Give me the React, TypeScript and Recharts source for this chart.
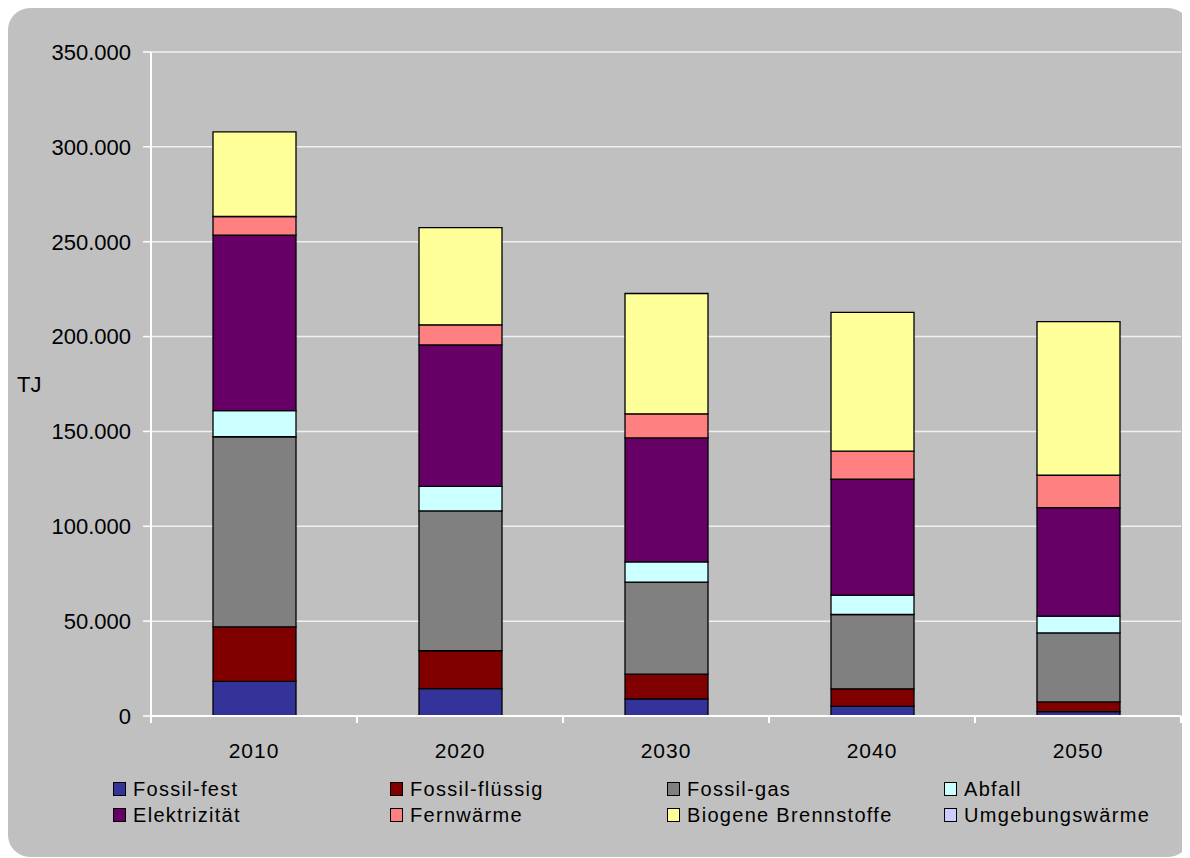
import React from "react";
import {
  BarChart,
  Bar,
  CartesianGrid,
  XAxis,
  YAxis,
} from "recharts";

// Categories and values (TJ)
const years = ["2010", "2020", "2030", "2040", "2050"];
const fossilFest = [18300, 14400, 9000, 5100, 2300];
const fossilFluessig = [28700, 20000, 13100, 9200, 5100];
const fossilGas = [100200, 73700, 48500, 39200, 36400];
const abfall = [13800, 12900, 10600, 10200, 8800];
const elektrizitaet = [92500, 74600, 65400, 61100, 57200];
const fernwaerme = [9800, 10600, 12700, 14800, 17100];
const biogene = [44600, 51200, 63400, 73200, 81000];
const umgebungswaerme = [0, 0, 0, 0, 0];
const yTicks = [0, 50000, 100000, 150000, 200000, 250000, 300000, 350000];

const series = [
  { key: "fest", name: "Fossil-fest", color: "#333399", values: fossilFest },
  { key: "fluessig", name: "Fossil-flüssig", color: "#800000", values: fossilFluessig },
  { key: "gas", name: "Fossil-gas", color: "#808080", values: fossilGas },
  { key: "abfall", name: "Abfall", color: "#CCFFFF", values: abfall },
  { key: "elek", name: "Elektrizität", color: "#660066", values: elektrizitaet },
  { key: "fern", name: "Fernwärme", color: "#FF8080", values: fernwaerme },
  { key: "bio", name: "Biogene Brennstoffe", color: "#FFFF99", values: biogene },
  { key: "umg", name: "Umgebungswärme", color: "#CCCCFF", values: umgebungswaerme },
];

const data = years.map((year, i) => {
  const row: Record<string, string | number> = { year };
  series.forEach(s => { row[s.key] = s.values[i]; });
  return row;
});

const font = "'Liberation Sans', Arial, sans-serif";
const fmt = (v: number) => String(v).replace(/\B(?=(\d{3})+(?!\d))/g, ".");

// category label plus the tick marks on the category borders
const XTick = (props: any) => {
  const { x, y, payload } = props;
  const half = payload && payload.offset ? payload.offset : 103;
  const isLast = payload.value === years[years.length - 1];
  return (
    <g>
      <line x1={x - half} x2={x - half} y1={y} y2={y + 7} stroke="#fff" strokeWidth={2} />
      {isLast && <line x1={x + half} x2={x + half} y1={y} y2={y + 7} stroke="#fff" strokeWidth={2} />}
      <text
        x={x}
        y={y + 34}
        textAnchor="middle"
        dominantBaseline="central"
        fontFamily={font}
        fontSize={21}
        letterSpacing={1}
        fill="#000"
      >
        {payload.value}
      </text>
    </g>
  );
};

export default function App() {
  return (
    <div
      style={{
        position: "relative",
        width: 1182,
        height: 849,
        background: "#C0C0C0",
        borderRadius: 22,
        overflow: "hidden",
        fontFamily: font,
      }}
    >
      <style>{"html,body{overflow:hidden}"}</style>
      <BarChart
        width={1182}
        height={849}
        data={data}
        margin={{ top: 44, right: 9, left: 0, bottom: 101 }}
      >
        <CartesianGrid vertical={false} stroke="#F0F0F0" strokeWidth={1.5} />
        <XAxis
          dataKey="year"
          height={40}
          axisLine={{ stroke: "#fff", strokeWidth: 2 }}
          tickLine={false}
          tickSize={0}
          tickMargin={0}
          tick={<XTick />}
        />
        <YAxis
          width={143}
          domain={[0, 350000]}
          ticks={yTicks}
          interval={0}
          tickFormatter={fmt}
          axisLine={{ stroke: "#fff", strokeWidth: 2 }}
          tickLine={{ stroke: "#fff", strokeWidth: 1.5 }}
          tickSize={8}
          tickMargin={12}
          tick={{ fill: "#000", fontSize: 22, fontFamily: font }}
          label={{
            value: "TJ",
            position: "insideLeft",
            offset: 9,
            style: { fill: "#000", fontSize: 22, fontFamily: font },
          }}
        />
        <YAxis
          yAxisId="right"
          orientation="right"
          width={0}
          tick={false}
          tickLine={false}
          axisLine={{ stroke: "#fff", strokeWidth: 2 }}
        />
        {series.map(s => (
          <Bar
            key={s.key}
            dataKey={s.key}
            name={s.name}
            stackId="a"
            fill={s.color}
            stroke="#000"
            strokeWidth={1.3}
            barSize={83}
            isAnimationActive={false}
          />
        ))}
      </BarChart>

      {/* Legend */}
      <div
        style={{
          position: "absolute",
          left: 105,
          top: 768,
          display: "grid",
          gridTemplateColumns: "277px 277px 277px 277px",
          gridAutoRows: "26px",
        }}
      >
        {series.map(s => (
          <div key={s.key} style={{ display: "flex", alignItems: "center" }}>
            <span
              style={{
                width: 11,
                height: 12,
                background: s.color,
                border: "1px solid #000",
                marginRight: 7,
                flexShrink: 0,
              }}
            />
            <span style={{ fontSize: 20, letterSpacing: 1.3, color: "#000", whiteSpace: "nowrap" }}>
              {s.name}
            </span>
          </div>
        ))}
      </div>
    </div>
  );
}
